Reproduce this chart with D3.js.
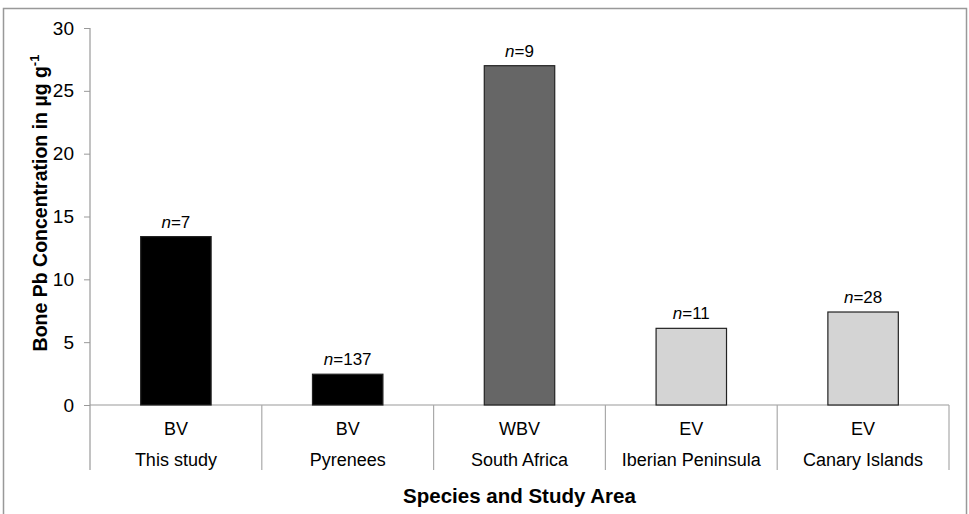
<!DOCTYPE html>
<html lang="en">
<head>
    <meta charset="UTF-8">
    <title>Bone Pb</title>
    <script src="https://cdn.jsdelivr.net/npm/d3@7"></script>
    <style>
        body { margin: 0; background: #fff; }
        text { font-family: "Liberation Sans", Arial, sans-serif; fill: #000; }
    </style>
</head>
<body>
    <svg width="969" height="514"></svg>
    <script>
        // data
        var species = ["BV", "BV", "WBV", "EV", "EV"]
        var areas = ["This study", "Pyrenees", "South Africa", "Iberian Peninsula", "Canary Islands"]
        var values = [13.4, 2.45, 27.0, 6.1, 7.4]
        var counts = [7, 137, 9, 11, 28]
        var fills = ["#000000", "#000000", "#666666", "#d4d4d4", "#d4d4d4"]
        var yTicks = [0, 5, 10, 15, 20, 25, 30]

        var svg = d3.select("svg")
        var marge = {top: 28, left: 90, right: 949, bottom: 405}

        // outer frame
        svg.append("rect").attr("x", 3.5).attr("y", 8.5).attr("width", 963).attr("height", 520)
            .attr("fill", "none").attr("stroke", "#999").attr("stroke-width", 1.5)

        var idx = d3.range(values.length)
        var x = d3.scaleBand().domain(idx).range([marge.left, marge.right]).paddingInner(0.59).paddingOuter(0.295)
        var xCat = d3.scaleBand().domain(idx).range([marge.left, marge.right])
        var y = d3.scaleLinear().domain([0, 30]).range([marge.bottom, marge.top])

        // y axis
        var yAxis = svg.append("g").attr("transform", `translate(${marge.left},0)`)
            .call(d3.axisLeft(y).tickValues(yTicks).tickSize(6).tickPadding(10))
        yAxis.select(".domain").remove()
        yAxis.selectAll("line").attr("stroke", "#999")
        yAxis.selectAll("text").attr("font-size", 19).style("font-family", "Liberation Sans, Arial, sans-serif").attr("fill", "#000")
        svg.append("line").attr("x1", marge.left).attr("x2", marge.left)
            .attr("y1", marge.top).attr("y2", 470).attr("stroke", "#999").attr("stroke-width", 1.2)

        // baseline
        svg.append("line").attr("x1", marge.left).attr("x2", marge.right)
            .attr("y1", y(0)).attr("y2", y(0)).attr("stroke", "#999").attr("stroke-width", 1.2)

        // category dividers
        svg.append("g").selectAll("line").data(idx).enter().append("line")
            .attr("x1", d => xCat(d) + xCat.bandwidth()).attr("x2", d => xCat(d) + xCat.bandwidth())
            .attr("y1", y(0)).attr("y2", 470).attr("stroke", "#aaa").attr("stroke-width", 1.2)

        // bars
        svg.append("g").selectAll("rect").data(idx).enter().append("rect")
            .attr("x", d => x(d)).attr("width", x.bandwidth())
            .attr("y", d => y(values[d])).attr("height", d => y(0) - y(values[d]))
            .attr("fill", d => fills[d]).attr("stroke", "#222").attr("stroke-width", 1.2)

        // n labels
        var nl = svg.append("g").selectAll("text").data(idx).enter().append("text")
            .attr("x", d => x(d) + x.bandwidth() / 2).attr("y", d => y(values[d]) - 9)
            .attr("text-anchor", "middle").attr("font-size", 17)
        nl.append("tspan").attr("font-style", "italic").text("n")
        nl.append("tspan").text(d => "=" + counts[d])

        // category labels
        svg.append("g").selectAll("text").data(idx).enter().append("text")
            .attr("x", d => xCat(d) + xCat.bandwidth() / 2).attr("y", 435)
            .attr("text-anchor", "middle").attr("font-size", 18).text(d => species[d])
        svg.append("g").selectAll("text").data(idx).enter().append("text")
            .attr("x", d => xCat(d) + xCat.bandwidth() / 2).attr("y", 466)
            .attr("text-anchor", "middle").attr("font-size", 18).text(d => areas[d])

        // axis titles
        svg.append("text").attr("x", (marge.left + marge.right) / 2).attr("y", 503)
            .attr("text-anchor", "middle").attr("font-size", 20.5).attr("font-weight", "bold")
            .text("Species and Study Area")
        var yt = svg.append("text").attr("transform", "translate(47,203) rotate(-90)")
            .attr("text-anchor", "middle").attr("font-size", 19.5).attr("font-weight", "bold")
        yt.append("tspan").text("Bone Pb Concentration in µg g")
        yt.append("tspan").attr("font-size", 13).attr("dy", -8).text("-1")
    </script>
</body>
</html>
